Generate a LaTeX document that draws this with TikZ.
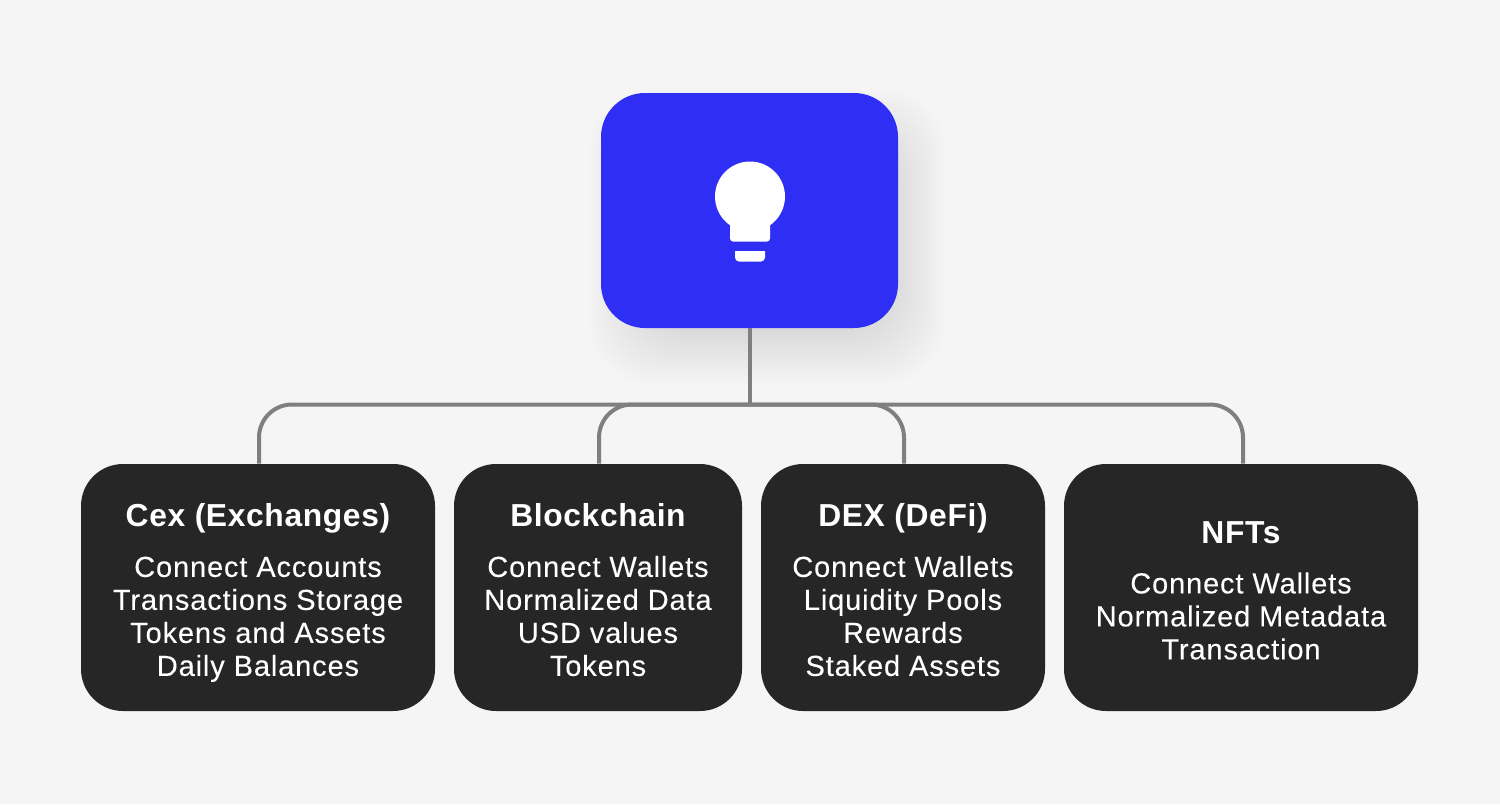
\documentclass[tikz,border=0pt]{standalone}
\usepackage{fontspec}
\setmainfont{Liberation Sans}
\newfontfamily\bodyfont[LetterSpace=3,FakeBold=0.12]{Liberation Sans}
\newfontfamily\headfont[LetterSpace=2]{Liberation Sans Bold}
\definecolor{pagegrey}{HTML}{F5F5F5}
\definecolor{rootblue}{HTML}{2E2EF5}
\definecolor{leafdark}{HTML}{262626}
\definecolor{linegrey}{HTML}{7F7F7F}
\definecolor{shadowblue}{HTML}{3030B0}
\tikzset{
  rootbox/.style={fill=rootblue, rounded corners=22pt, minimum width=148.5pt, minimum height=117.5pt, inner sep=0pt},
  leafbox/.style={fill=leafdark, rounded corners=21pt, minimum height=123.5pt, inner sep=0pt, text=white, align=center,
                  font=\fontsize{14.5}{16.5}\selectfont\bodyfont},
  branch/.style={draw=linegrey, line width=2pt, rounded corners=16.5pt},
  bulb/.style={fill=white, draw=none}
}
\newcommand{\boxhead}[1]{{\fontsize{15.9}{16.5}\selectfont\headfont\rule{0pt}{17pt}#1}\\[8.5pt]}
\newcommand{\boxend}{\rule[-3.1pt]{0pt}{1pt}}
\begin{document}
\begin{tikzpicture}[x=.5pt,y=-.5pt]
\useasboundingbox (0,0) rectangle (1500,804);
\fill[pagegrey] (0,0) rectangle (1500,804);
% soft shadow of the root box
\foreach \s in {-24,-22,...,30} {
  \fill[shadowblue, opacity=.005, rounded corners=30pt]
    (601+18-\s,93+26-\s) rectangle (898+18+\s,328+26+\s);
}
\coordinate (bus) at (749.5,404.5);
% leaves
\node[leafbox, minimum width=177pt] (cex) at (258,587.5) {\boxhead{Cex (Exchanges)}Connect Accounts\\Transactions Storage\\Tokens and Assets\\Daily Balances\boxend};
\node[leafbox, minimum width=144pt] (chain) at (598,587.5) {\boxhead{Blockchain}Connect Wallets\\Normalized Data\\USD values\\Tokens\boxend};
\node[leafbox, minimum width=142pt] (dex) at (903,587.5) {\boxhead{DEX (DeFi)}Connect Wallets\\Liquidity Pools\\Rewards\\Staked Assets\boxend};
\node[leafbox, minimum width=177pt] (nft) at (1241,587.5) {\boxhead{NFTs}Connect Wallets\\Normalized Metadata\\Transaction\boxend};
% root
\node[rootbox] (root) at (749.5,210.5) {};
\draw[line width=2pt, draw=linegrey] (root.south) -- (bus);
\draw[branch] (bus) -| ([xshift=.5pt]cex.north);
\draw[branch] (bus) -| ([xshift=.5pt]chain.north);
\draw[branch] (bus) -| ([xshift=.5pt]dex.north);
\draw[branch] (bus) -| ([xshift=1pt]nft.north);
% bulb
\fill[bulb] (750,196.5) circle (17.5pt);
\fill[bulb, rounded corners=1.5pt] (730,220) rectangle (770,241.5);
\fill[bulb] (735,251) [rounded corners=2pt] -- (735,261.5) -- (765,261.5) [sharp corners] -- (765,251) -- cycle;
\end{tikzpicture}
\end{document}
